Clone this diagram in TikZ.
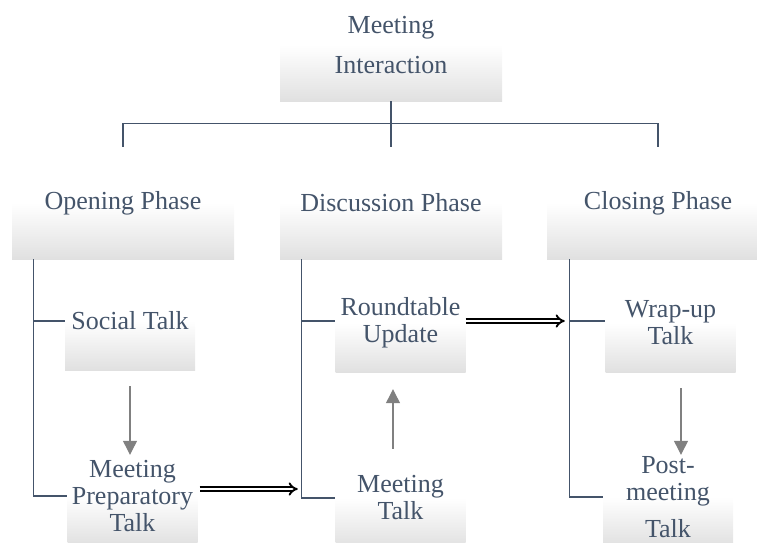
\documentclass[tikz,border=0pt]{standalone}
\usepackage{fontspec}
\setmainfont{Liberation Serif}
\usetikzlibrary{arrows.meta}
\definecolor{slate}{HTML}{44546A}

\begin{document}
\begin{tikzpicture}[x=1pt, y=-1pt, >=stealth,
        box/.style={rectangle, inner sep=2pt, align=center, text=slate,
            font=\fontsize{26}{27}\selectfont,
            top color=white, bottom color=black!12, middle color=white},
        phase/.style={box, minimum width=222pt, minimum height=112pt},
        talk/.style={box, minimum width=130pt, minimum height=98pt},
        link/.style={draw=slate, line width=1.2pt},
        flow/.style={draw=gray, line width=1.2pt, -{Triangle[width=14pt,length=14pt]}},
        pass/.style={draw=black, double=white, double distance=2.4pt, line width=1.9pt, -{Implies}}]
        \useasboundingbox (0,0) rectangle (757,543);

        % Boxes
        \node[phase] (mi) at (391,45) {Meeting\\[13pt]Interaction};
        \node[phase] (op) at (123,203) {Opening Phase};
        \node[phase] (dp) at (391,203) {Discussion Phase};
        \node[phase] (cp) at (658,203) {Closing Phase};

        \node[talk] (st) at (130,321) {Social Talk};
        \node[talk] (mpt) at (132.5,496) {Meeting\\Preparatory\\Talk};
        \node[talk] (ru) at (400.5,323) {Roundtable\\Update};
        \node[talk] (mt) at (400.5,498) {Meeting\\Talk};
        \node[talk] (wt) at (670.5,323) {Wrap-up\\Talk};
        \node[talk] (pmt) at (668,497) {Post-\\meeting\\[10pt]Talk};

        % Tree below the top box
        \draw[link] (mi.south) -- ++(0,22) coordinate (hub);
        \draw[link] (op.north) |- (hub) -| (cp.north);
        \draw[link] (dp.north) -- (hub);

        % Brackets under each phase
        \coordinate (opbar) at ([xshift=22pt]op.south west);
        \coordinate (dpbar) at ([xshift=22pt]dp.south west);
        \coordinate (cpbar) at ([xshift=23pt]cp.south west);
        \draw[link] (opbar) |- (st.west);
        \draw[link] (opbar) |- (mpt.west);
        \draw[link] (dpbar) |- ([yshift=2pt]ru.west);
        \draw[link] (dpbar) |- (mt.west);
        \draw[link] (cpbar) |- ([yshift=2pt]wt.west);
        \draw[link] (cpbar) |- (pmt.west);

        % Order inside a phase
        \draw[flow, shorten <=16pt, shorten >=-8pt] (st.south) -- (st.south |- mpt.north);
        \coordinate (mtout) at ([xshift=-7.5pt]mt.north);
        \draw[flow, shorten >=17pt] (mtout) -- (mtout |- ru.south);
        \coordinate (wtout) at ([xshift=10.5pt]wt.south);
        \draw[flow, shorten <=16pt, shorten >=-7pt] (wtout) -- (wtout |- pmt.north);

        % Passing to the next phase
        \coordinate (mptout) at ([yshift=7pt]mpt.east);
        \draw[pass, shorten <=2pt, shorten >=4pt] (mptout) -- (mptout -| dpbar);
        \coordinate (ruout) at ([yshift=2pt]ru.east);
        \draw[pass, shorten >=5pt] (ruout) -- (ruout -| cpbar);
    \end{tikzpicture}
\end{document}
